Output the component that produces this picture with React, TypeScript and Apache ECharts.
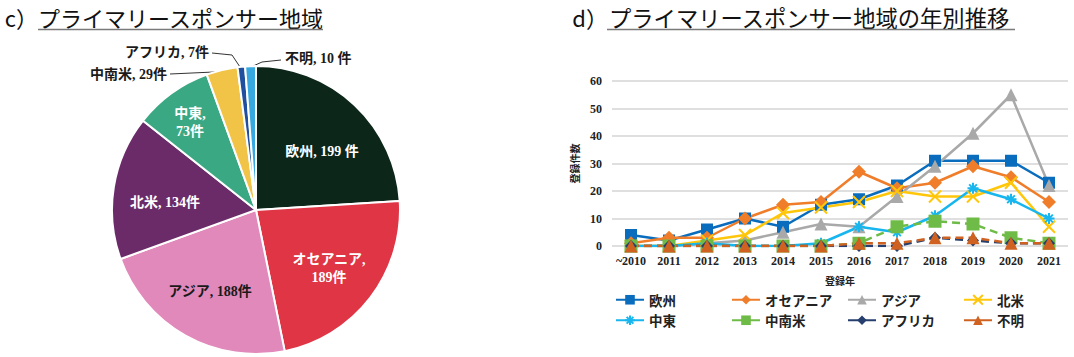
import React, { useEffect, useRef } from "react";
import * as echarts from "echarts";

// ---- Pie data (c) ----
const regions = ["欧州", "オセアニア", "アジア", "北米", "中東", "中南米", "アフリカ", "不明"];
const regionTotals = [199, 189, 188, 134, 73, 29, 7, 10];
const regionColors = ["#0c2619", "#df3545", "#e189ba", "#6b2b69", "#3ba884", "#f1c346", "#1f4f9e", "#38a9e0"];

// ---- Line data (d) ----
const years = ["~2010", "2011", "2012", "2013", "2014", "2015", "2016", "2017", "2018", "2019", "2020", "2021"];
const europe = [4, 2, 6, 10, 7, 15, 17, 22, 31, 31, 31, 23];
const oceania = [1, 3, 3, 10, 15, 16, 27, 21, 23, 29, 25, 16];
const asia = [0, 0, 1, 2, 5, 8, 7, 18, 29, 41, 55, 22];
const northAmerica = [0, 0, 2, 4, 12, 14, 16, 20, 18, 18, 23, 7];
const middleEast = [0, 0, 1, 0, 0, 1, 7, 5, 11, 21, 17, 10];
const latinAmerica = [0, 0, 0, 0, 0, 0, 1, 7, 9, 8, 3, 1];
const africa = [0, 0, 0, 0, 0, 0, 0, 0, 3, 2, 1, 1];
const unknown = [0, 0, 0, 0, 0, 0, 1, 1, 3, 3, 1, 1];
const yMin = 0;
const yMax = 60;
const yStep = 10;

const SERIF_CJK = "'Liberation Serif', 'Noto Sans CJK JP', serif";
const SANS_CJK = "'Noto Sans CJK JP', sans-serif";

const X_SYMBOL = "path://M0,0L10,10M10,0L0,10";
const STAR_SYMBOL = "path://M5,0L5,10M0,5L10,5M1.5,1.5L8.5,8.5M8.5,1.5L1.5,8.5";

const pieLabelTexts = (i: number) => {
  const n = regions[i];
  const v = regionTotals[i];
  if (i === 1 || i === 4) return `${n},\n${v}件`;
  if (i === 0 || i === 7) return `${n}, ${v} 件`;
  return `${n}, ${v}件`;
};

const pieLabelPlaces: any[] = [
  { x: 322, y: 151 },
  { x: 329, y: 268 },
  { x: 210, y: 291 },
  { x: 165, y: 202 },
  { x: 190, y: 122 },
  { x: 167, y: 74, align: "right", verticalAlign: "middle", labelLinePoints: [[224, 71], [214, 72], [170, 74]] },
  { x: 209, y: 52, align: "right", verticalAlign: "middle", labelLinePoints: [[240, 67], [232, 55], [212, 53]] },
  { x: 285, y: 58, align: "left", verticalAlign: "middle", labelLinePoints: [[251, 67], [262, 62], [281, 60]] },
];

const lineDefs = [
  { name: "欧州", data: europe, color: "#0a6cbd", symbol: "rect", size: 12, dashed: false },
  { name: "オセアニア", data: oceania, color: "#ef7d2a", symbol: "diamond", size: 14, dashed: false },
  { name: "アジア", data: asia, color: "#a9a9a9", symbol: "triangle", size: 13, dashed: false },
  { name: "北米", data: northAmerica, color: "#ffc60a", symbol: X_SYMBOL, size: 12, dashed: false, stroke: true },
  { name: "中東", data: middleEast, color: "#17b6ee", symbol: STAR_SYMBOL, size: 11, dashed: false, stroke: true },
  { name: "中南米", data: latinAmerica, color: "#6fbb47", symbol: "rect", size: 13, dashed: true },
  { name: "アフリカ", data: africa, color: "#263f6e", symbol: "diamond", size: 12, dashed: true },
  { name: "不明", data: unknown, color: "#cf6221", symbol: "triangle", size: 13, dashed: true },
];

const legendLefts = [615, 731, 847, 963];

export default function App() {
  const ref = useRef<HTMLDivElement>(null);
  useEffect(() => {
    if (!ref.current) return;
    const chart = echarts.init(ref.current, undefined, { renderer: "svg" });
    const option: any = {
      animation: false,
      backgroundColor: "#ffffff",
      graphic: [
        { type: "text", x: 38, y: 17, style: { text: "c）", font: `22px ${SANS_CJK}`, fill: "#111", align: "right", verticalAlign: "middle" } },
        { type: "text", x: 38, y: 17, style: { text: "プライマリースポンサー地域", font: `22px ${SANS_CJK}`, fill: "#111", verticalAlign: "middle" } },
        { type: "line", shape: { x1: 38, y1: 29.5, x2: 323, y2: 29.5 }, style: { stroke: "#7a7a7a", lineWidth: 1.5 } },
        { type: "text", x: 608, y: 17, style: { text: "d）", font: `22px ${SANS_CJK}`, fill: "#111", align: "right", verticalAlign: "middle" } },
        { type: "text", x: 609, y: 17, style: { text: "プライマリースポンサー地域の年別推移", font: `22.3px ${SANS_CJK}`, fill: "#111", verticalAlign: "middle" } },
        { type: "line", shape: { x1: 607, y1: 29.5, x2: 1015, y2: 29.5 }, style: { stroke: "#7a7a7a", lineWidth: 1.5 } },
      ],
      legend: legendLefts.map((left, c) => ({
        orient: "vertical",
        left,
        top: 293,
        padding: 0,
        itemWidth: 28,
        itemHeight: 12,
        itemGap: 7,
        data: [lineDefs[c].name, lineDefs[c + 4].name].map((name) => ({
          name,
          lineStyle: { type: "solid" },
        })),
        textStyle: { fontFamily: SANS_CJK, fontWeight: "bold", fontSize: 13.5, color: "#222" },
      })),
      grid: { left: 612, right: 6, top: 81, bottom: 111, containLabel: false },
      xAxis: {
        type: "category",
        data: years,
        boundaryGap: true,
        axisLine: { show: false },
        axisTick: { show: false },
        axisLabel: { interval: 0, fontFamily: SERIF_CJK, fontWeight: "bold", fontSize: 12, color: "#222", margin: 9 },
        name: "登録年",
        nameLocation: "middle",
        nameGap: 29,
        nameTextStyle: { fontFamily: SANS_CJK, fontWeight: "bold", fontSize: 10, color: "#222" },
      },
      yAxis: {
        type: "value",
        min: yMin,
        max: yMax,
        interval: yStep,
        axisLine: { show: false },
        axisTick: { show: false },
        splitLine: { lineStyle: { color: "#d4d4d4", width: 1.5 } },
        axisLabel: { fontFamily: SERIF_CJK, fontWeight: "bold", fontSize: 12, color: "#222", margin: 10 },
        name: "登録件数",
        nameLocation: "middle",
        nameGap: 33,
        nameRotate: 90,
        nameTextStyle: { fontFamily: SANS_CJK, fontWeight: "bold", fontSize: 10, color: "#222" },
      },
      series: [
        {
          type: "pie",
          center: [256, 210],
          radius: 144,
          startAngle: 90,
          clockwise: true,
          avoidLabelOverlap: false,
          itemStyle: { borderColor: "#ffffff", borderWidth: 2 },
          label: { fontFamily: SERIF_CJK, fontWeight: "bold", fontSize: 14, lineHeight: 18 },
          labelLine: { lineStyle: { color: "#333", width: 1 } },
          labelLayout: (p: any) => pieLabelPlaces[p.dataIndex],
          data: regions.map((name, i) => ({
            name,
            value: regionTotals[i],
            itemStyle: { color: regionColors[i] },
            label: {
              position: i < 5 ? "inside" : "outside",
              color: i < 5 && i !== 2 ? "#ffffff" : "#1a1a1a",
              formatter: () => pieLabelTexts(i),
            },
            labelLine: { show: i >= 5 },
          })),
        },
        ...lineDefs.map((d) => ({
          type: "line",
          name: d.name,
          data: d.data,
          symbol: d.symbol,
          symbolSize: d.size,
          showAllSymbol: true,
          itemStyle: d.stroke
            ? { color: d.color, borderColor: d.color, borderWidth: 2 }
            : { color: d.color },
          lineStyle: { color: d.color, width: 2.5, type: d.dashed ? [8, 5] : "solid" },
        })),
      ],
    };
    chart.setOption(option);
    return () => chart.dispose();
  }, []);
  return (
    <div
      ref={ref}
      style={{ position: "fixed", left: 0, top: 0, width: 1074, height: 357 }}
    />
  );
}
